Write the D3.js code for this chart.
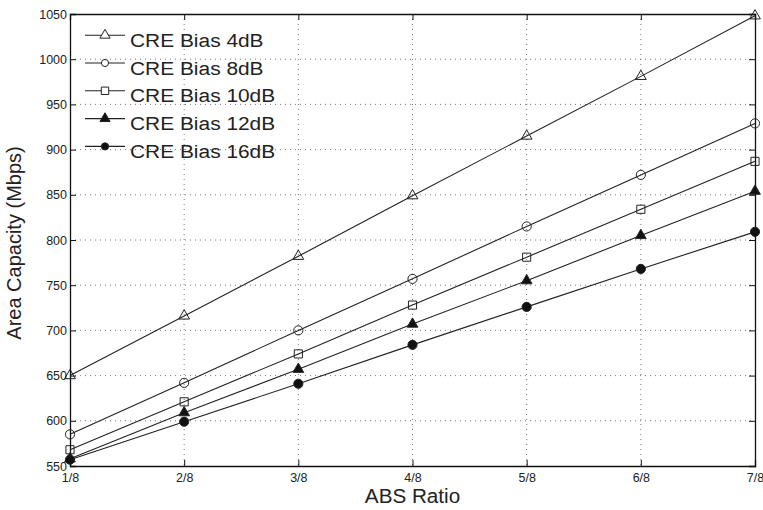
<!DOCTYPE html>
<html><head><meta charset="utf-8">
<script src="https://cdn.jsdelivr.net/npm/d3@7"></script>
<style>body{margin:0;background:#fff}svg{display:block}text{font-family:"Liberation Sans",Arial,sans-serif;fill:#222}</style>
</head><body><svg id="c" width="763" height="510"></svg>
<script>
const categories = ["1/8","2/8","3/8","4/8","5/8","6/8","7/8"];
const bias4  = [650, 716, 782, 849, 915, 981, 1048];
const bias8  = [585, 642, 700, 757, 815, 872, 929];
const bias10 = [568, 621, 674, 728, 781, 834, 887];
const bias12 = [558, 609, 657, 707, 755, 805, 854];
const bias16 = [557, 599, 641, 684, 726, 768, 809];
const seriesNames = ["CRE Bias 4dB","CRE Bias 8dB","CRE Bias 10dB","CRE Bias 12dB","CRE Bias 16dB"];
const yTicks = [550,600,650,700,750,800,850,900,950,1000,1050];

const series = [
  {name: seriesNames[0], values: bias4,  sym: d3.symbolTriangle, fill: "none"},
  {name: seriesNames[1], values: bias8,  sym: d3.symbolCircle,   fill: "none"},
  {name: seriesNames[2], values: bias10, sym: d3.symbolSquare,   fill: "none"},
  {name: seriesNames[3], values: bias12, sym: d3.symbolTriangle, fill: "#111"},
  {name: seriesNames[4], values: bias16, sym: d3.symbolCircle,   fill: "#111"}
];

const svg = d3.select("#c");
const L = 70, R = 755, T = 14, B = 466;
const x = d3.scalePoint().domain(categories).range([L, R]);
const y = d3.scaleLinear().domain([550, 1050]).range([B, T]);

// grid
const g = svg.append("g");
g.selectAll(".gx").data(categories.slice(1, -1)).join("line")
  .attr("x1", d => x(d)).attr("x2", d => x(d)).attr("y1", T).attr("y2", B)
  .attr("stroke", "#555").attr("stroke-width", 0.8).attr("stroke-dasharray", "1,4");
g.selectAll(".gy").data(yTicks.slice(1, -1)).join("line")
  .attr("y1", d => y(d)).attr("y2", d => y(d)).attr("x1", L).attr("x2", R)
  .attr("stroke", "#555").attr("stroke-width", 0.8).attr("stroke-dasharray", "1,4");

// axes
const ax = svg.append("g").attr("transform", `translate(0,${B})`)
  .call(d3.axisBottom(x).tickSize(-6).tickPadding(7));
const axT = svg.append("g").attr("transform", `translate(0,${T})`)
  .call(d3.axisTop(x).tickSize(-6).tickFormat(""));
const ay = svg.append("g").attr("transform", `translate(${L},0)`)
  .call(d3.axisLeft(y).tickValues(yTicks).tickSize(-6).tickPadding(3).tickFormat(d3.format("d")));
const ayR = svg.append("g").attr("transform", `translate(${R},0)`)
  .call(d3.axisRight(y).tickValues(yTicks).tickSize(-6).tickFormat(""));
[ax, axT, ay, ayR].forEach(a => {
  a.select(".domain").attr("stroke", "#111").attr("stroke-width", 1.3);
  a.selectAll(".tick line").attr("stroke", "#111").attr("stroke-width", 1);
  a.selectAll("text").attr("font-size", 12.5).attr("fill", "#222")
    .attr("font-family", "Liberation Sans, Arial, sans-serif");
});

// lines & markers
const line = d3.line().x((d, i) => x(categories[i])).y(d => y(d));
series.forEach(s => {
  svg.append("path").attr("d", line(s.values)).attr("fill", "none")
    .attr("stroke", "#222").attr("stroke-width", 1.1);
  const size = s.sym === d3.symbolTriangle ? 50 : 66;
  svg.selectAll(null).data(s.values).join("path")
    .attr("transform", (d, i) => `translate(${x(categories[i])},${y(d)})`)
    .attr("d", d3.symbol().type(s.sym).size(size))
    .attr("fill", s.fill === "none" ? "#fff" : s.fill).attr("fill-opacity", s.fill === "none" ? 0 : 1)
    .attr("stroke", "#222").attr("stroke-width", 1);
});

// legend
const lg = svg.append("g");
series.forEach((s, i) => {
  const base = 46.7 + i * 27.8;
  const yy = base - 11.5;
  lg.append("line").attr("x1", 85).attr("x2", 125).attr("y1", yy).attr("y2", yy)
    .attr("stroke", "#222").attr("stroke-width", 1.1);
  const size = s.sym === d3.symbolTriangle ? 45 : (s.sym === d3.symbolSquare ? 55 : 40);
  lg.append("path").attr("transform", `translate(105,${yy})`)
    .attr("d", d3.symbol().type(s.sym).size(size))
    .attr("fill", s.fill === "none" ? "#fff" : s.fill)
    .attr("stroke", "#222").attr("stroke-width", 1);
  lg.append("text").attr("transform", `translate(130,${base}) scale(1.1,1)`)
    .attr("font-size", 19).text(s.name);
});

// axis titles
svg.append("text").attr("transform", `translate(${(L + R) / 2},503) scale(1.06,1)`)
  .attr("text-anchor", "middle").attr("font-size", 19.5).text("ABS Ratio");
svg.append("text").attr("transform", `translate(21,${(T + B) / 2 + 3}) rotate(-90)`)
  .attr("text-anchor", "middle").attr("font-size", 20).text("Area Capacity (Mbps)");
</script></body></html>
